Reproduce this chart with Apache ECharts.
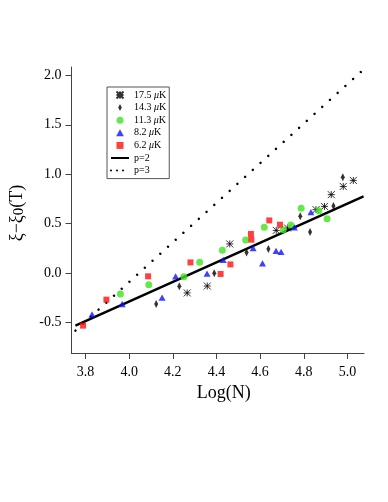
<!DOCTYPE html>
<html>
<head>
<meta charset="utf-8">
<script src="https://cdn.jsdelivr.net/npm/echarts@6/dist/echarts.min.js"></script>
<style>
  html, body { margin: 0; padding: 0; background: #fff; }
  #chart { width: 388px; height: 502px; }
</style>
</head>
<body>
<div id="chart"></div>
<script>
// values: [Log(N), xi - xi0(T)]
const t175 = [[4.266, -0.202], [4.358, -0.132], [4.461, 0.294], [4.674, 0.431], [4.726, 0.455],
  [4.856, 0.641], [4.895, 0.674], [4.926, 0.793], [4.981, 0.876], [5.027, 0.937]];
const t143 = [[4.124, -0.314], [4.230, -0.134], [4.390, -0.004], [4.538, 0.208], [4.638, 0.243],
  [4.784, 0.573], [4.829, 0.416], [4.936, 0.678], [4.979, 0.970]];
const t113 = [[3.960, -0.213], [4.090, -0.118], [4.251, -0.037], [4.323, 0.109], [4.427, 0.229],
  [4.534, 0.334], [4.619, 0.462], [4.706, 0.438], [4.741, 0.486], [4.788, 0.654], [4.869, 0.631], [4.907, 0.550]];
const t82 = [[3.830, -0.419], [3.968, -0.314], [4.151, -0.250], [4.213, -0.034], [4.357, -0.007],
  [4.431, 0.133], [4.568, 0.253], [4.611, 0.097], [4.673, 0.223], [4.696, 0.214], [4.757, 0.461], [4.833, 0.617]];
const t62 = [[3.789, -0.533], [3.896, -0.270], [4.087, -0.034], [4.281, 0.107], [4.419, -0.010],
  [4.464, 0.087], [4.558, 0.395], [4.560, 0.337], [4.642, 0.532], [4.691, 0.489]];
const fitP2 = [[3.754, -0.533], [5.074, 0.775]];
const fitP3 = [[3.754, -0.584], [5.068, 2.048]];
const xTicks = [3.8, 4.0, 4.2, 4.4, 4.6, 4.8, 5.0];
const yTicks = [-0.5, 0.0, 0.5, 1.0, 1.5, 2.0];

const serif = '"Liberation Serif", "DejaVu Serif", serif';
const star = 'path://M0,0L10,10M10,0L0,10M5,0L5,10M0,5L10,5';
const diamond = 'path://M2.5,0L5,5L2.5,10L0,5Z';
const circle = 'path://M0,5A5,5 0 1 1 10,5A5,5 0 1 1 0,5Z';
const tri = 'path://M5,0L10,9L0,9Z';
const sq = 'path://M0,0L10,0L10,10L0,10Z';

function dots(name, data, symbol, size, color, outline) {
  return {
    name: name, type: 'scatter', data: data, symbol: symbol, symbolSize: size,
    symbolKeepAspect: true, z: 3,
    itemStyle: outline
      ? { color: 'rgba(0,0,0,0)', borderColor: color, borderWidth: 1 }
      : { color: color }
  };
}

const chart = echarts.init(document.getElementById('chart'));
chart.setOption({
  animation: false,
  grid: { left: 63, right: 24, top: 67, bottom: 149 },
  legend: {
    orient: 'vertical', left: 107, top: 87,
    itemWidth: 18, itemHeight: 7, itemGap: 2.6,
    padding: [3, 3, 3, 3],
    borderColor: '#555', borderWidth: 1,
    textStyle: { fontFamily: serif, fontSize: 10, lineHeight: 10, color: '#000',
      rich: { i: { fontFamily: serif, fontSize: 10, lineHeight: 10, fontStyle: 'italic', color: '#000' } } },
    formatter: function (n) { return n.replace('μ', '{i|μ}'); },
    data: ['17.5 μK', '14.3 μK', '11.3 μK', '8.2 μK', '6.2 μK', 'p=2',
      { name: 'p=3', lineStyle: { type: [0.01, 6] } }]
  },
  xAxis: {
    type: 'value', min: 3.736, max: 5.076,
    name: 'Log(N)', nameLocation: 'middle', nameGap: 30,
    nameTextStyle: { fontFamily: serif, fontSize: 18, color: '#000', padding: [0, 0, 0, 12] },
    axisLine: { onZero: false, lineStyle: { color: '#444', width: 1 } },
    axisTick: { inside: false, length: 6, customValues: xTicks, lineStyle: { color: '#444' } },
    axisLabel: { customValues: xTicks, margin: 12, fontFamily: serif, fontSize: 14, color: '#000',
      formatter: function (v) { return v.toFixed(1); } },
    splitLine: { show: false }
  },
  yAxis: {
    type: 'value', min: -0.81, max: 2.085,
    name: '{a|ξ−ξ}{s|0}{a|(T)}', nameLocation: 'middle', nameGap: 45, nameRotate: 90,
    nameTextStyle: { padding: [0, 6, 0, 0], rich: {
      a: { fontFamily: serif, fontSize: 18, color: '#000' },
      s: { fontFamily: serif, fontSize: 15, color: '#000', padding: [4, 0, 0, 0] }
    } },
    axisLine: { show: true, onZero: false, lineStyle: { color: '#444', width: 1 } },
    axisTick: { show: true, length: 6, customValues: yTicks, lineStyle: { color: '#444' } },
    axisLabel: { customValues: yTicks, margin: 10, fontFamily: serif, fontSize: 14, color: '#000',
      formatter: function (v) { return v.toFixed(1); } },
    splitLine: { show: false }
  },
  series: [
    dots('17.5 μK', t175, star, 7, '#000', true),
    dots('14.3 μK', t143, diamond, 8, '#000', false),
    dots('11.3 μK', t113, circle, 7, '#3ee21b', false),
    dots('8.2 μK', t82, tri, 7, '#1010ff', false),
    dots('6.2 μK', t62, sq, 6, '#ff1010', false),
    {
      name: 'p=2', type: 'line', data: fitP2, symbol: 'none', z: 2,
      itemStyle: { color: 'rgba(0,0,0,0)' },
      lineStyle: { color: '#000', width: 2.5 }
    },
    {
      name: 'p=3', type: 'line', data: fitP3, symbol: 'none', z: 2,
      itemStyle: { color: 'rgba(0,0,0,0)' },
      lineStyle: { color: '#000', width: 2.5, type: [0.01, 10.4], cap: 'round' }
    }
  ]
});
</script>
</body>
</html>
